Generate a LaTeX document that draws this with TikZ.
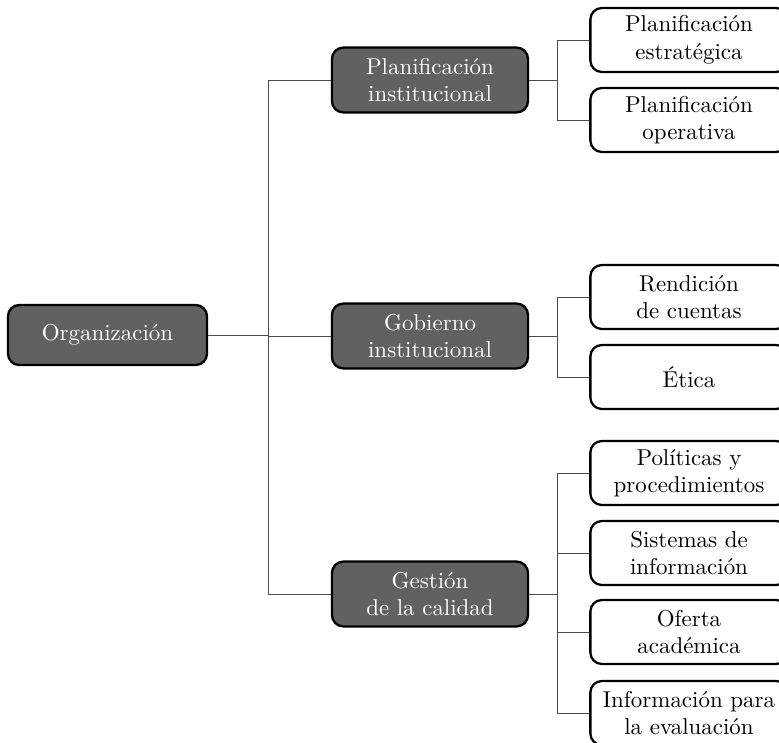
\documentclass[tikz,border=0pt]{standalone}
\usetikzlibrary{positioning}
\tikzset{
  darkbox/.style={draw=black, line width=1pt, rounded corners=5pt, fill=black!62,
    text=white, align=center, minimum width=85.5pt, minimum height=28.3pt, inner sep=1pt},
  leafbox/.style={draw=black, line width=1pt, rounded corners=5pt, fill=white,
    align=center, minimum width=86pt, minimum height=27.9pt, inner sep=1pt},
  link/.style={draw=black!70, line width=0.4pt}
}
\begin{document}
\begin{tikzpicture}[x=0.436pt, y=-0.436pt]
      \useasboundingbox (0,0) rectangle (779,743);
      % tronco y ramas
      \node[darkbox, minimum width=86.8pt, minimum height=26.2pt] (org) at (107.5,335) {Organización};
      \node[darkbox] (plan) at (430,80) {Planificación\\institucional};
      \node[darkbox] (gob) at (430,336) {Gobierno\\institucional};
      \node[darkbox] (cal) at (430,594) {Gestión\\de la calidad};
      % hojas
      \node[leafbox] (pest) at (689,40) {Planificación\\estratégica};
      \node[leafbox] (pope) at (689,120) {Planificación\\operativa};
      \node[leafbox] (rend) at (689,297) {Rendición\\de cuentas};
      \node[leafbox] (etic) at (689,377) {Ética};
      \node[leafbox] (poli) at (689,473) {Políticas y\\procedimientos};
      \node[leafbox] (sist) at (689,553) {Sistemas de\\información};
      \node[leafbox] (ofer) at (689,632) {Oferta\\académica};
      \node[leafbox] (infe) at (689,713) {Información para\\la evaluación};
      % puntos de los buses
      \coordinate (b0) at (268,335);
      \coordinate (b1) at (557,80);
      \coordinate (b2) at (557,336);
      \coordinate (b3) at (557,594);
      \begin{scope}[link]
        \draw (org) -- (b0);
        \draw (b0) |- (plan);
        \draw (b0) |- (gob);
        \draw (b0) |- (cal);
        \draw (plan) -- (b1);
        \draw (b1) |- (pest);
        \draw (b1) |- (pope);
        \draw (gob) -- (b2);
        \draw (b2) |- (rend);
        \draw (b2) |- (etic);
        \draw (cal) -- (b3);
        \draw (b3) |- (poli);
        \draw (b3) |- (sist);
        \draw (b3) |- (ofer);
        \draw (b3) |- (infe);
      \end{scope}
    \end{tikzpicture}
\end{document}
